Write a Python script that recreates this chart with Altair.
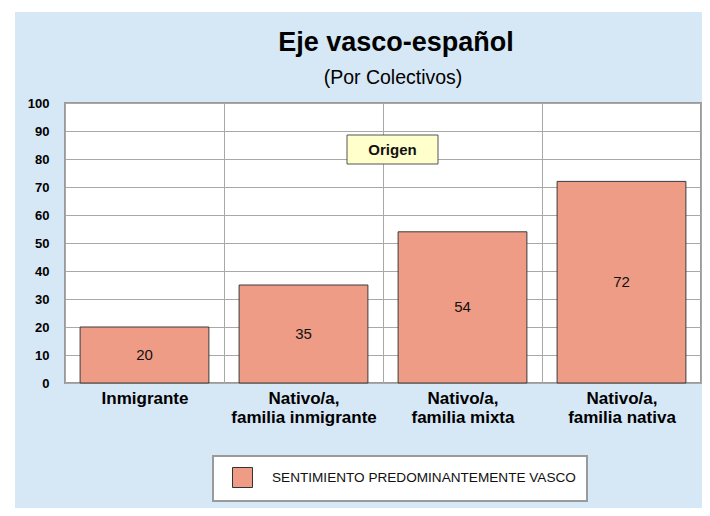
import altair as alt
import pandas as pd

# ---- data ----
categories = [
    "Inmigrante",
    "Nativo/a,\nfamilia inmigrante",
    "Nativo/a,\nfamilia mixta",
    "Nativo/a,\nfamilia nativa",
]
values = [20, 35, 54, 72]
series_name = "Sentimiento predominantemente vasco"
y_ticks = list(range(0, 101, 10))
title_text = ["Eje vasco-español"]
subtitle_text = ["(Por Colectivos)"]
annotation_text = ["Origen"]

df = pd.DataFrame({"colectivo": categories, "valor": values, "serie": [series_name] * len(values)})
one = pd.DataFrame({"label": annotation_text})
title_df = pd.DataFrame({"label": title_text})
subtitle_df = pd.DataFrame({"label": subtitle_text})

FONT = "Liberation Sans"
W, H = 636, 280

x_axis = alt.Axis(
    title=None, domain=False, ticks=False, grid=True, tickBand="extent",
    gridColor="#A8A8A8", gridWidth=1,
    labelAngle=0, labelFont=FONT, labelFontSize=17, labelFontWeight="bold",
    labelColor="black", labelPadding=7, labelLineHeight=19.5, labelBaseline="top",
    labelExpr="split(datum.label, '\\n')", labelLimit=300,
)
x_scale = alt.Scale(paddingInner=0, paddingOuter=0)
y_axis = alt.Axis(
    title=None, values=y_ticks, domain=False, ticks=False,
    gridColor="#A8A8A8", gridWidth=1,
    labelFont=FONT, labelFontSize=13, labelFontWeight="bold", labelColor="black",
    labelPadding=16,
)
y_scale = alt.Scale(domain=[0, 100], nice=False)

base = alt.Chart(df)

bars = base.mark_bar(
    stroke="#3a3a3a", strokeWidth=1, width=alt.RelativeBandSize(0.81)
).encode(
    x=alt.X("colectivo:N", sort=categories, scale=x_scale, axis=x_axis),
    y=alt.Y("valor:Q", scale=y_scale, axis=y_axis),
    color=alt.Color(
        "serie:N",
        scale=alt.Scale(range=["#EE9C86"]),
        legend=alt.Legend(
            orient="none", legendX=148, legendY=353, title=None,
            fillColor="white", strokeColor="#9A9A9A", padding=11,
            symbolType="square", symbolSize=400, symbolStrokeColor="#333333",
            symbolStrokeWidth=1, symbolOffset=8, labelOffset=19,
            labelFont=FONT, labelFontSize=13.6, labelColor="#111111",
            labelExpr="upper(datum.label)", labelLimit=400,
        ),
    ),
)

labels = base.transform_calculate(mid="datum.valor / 2").mark_text(
    font=FONT, fontSize=15, color="#111111", baseline="middle", align="center"
).encode(
    x=alt.X("colectivo:N", sort=categories, scale=x_scale, axis=x_axis),
    y=alt.Y("mid:Q", scale=y_scale, axis=y_axis),
    text=alt.Text("valor:Q"),
)

ann_box = alt.Chart(one).mark_rect(fill="#FFFFCC", stroke="#555555", strokeWidth=1).encode(
    x=alt.value(282), x2=alt.value(373), y=alt.value(32), y2=alt.value(61)
)
ann_text = alt.Chart(one).mark_text(
    font=FONT, fontSize=15, fontWeight="bold", color="#111111", baseline="middle", align="center"
).encode(x=alt.value(327.5), y=alt.value(47), text="label:N")

title_mark = alt.Chart(title_df).mark_text(
    font=FONT, fontSize=27, fontWeight="bold", color="black", baseline="alphabetic", align="center"
).encode(x=alt.value(331), y=alt.value(-52), text="label:N")
subtitle_mark = alt.Chart(subtitle_df).mark_text(
    font=FONT, fontSize=19.5, color="black", baseline="alphabetic", align="center"
).encode(x=alt.value(328), y=alt.value(-19), text="label:N")

strip_left = alt.Chart(one).mark_rect(fill="white").encode(
    x=alt.value(-57), x2=alt.value(-50), y=alt.value(-95), y2=alt.value(420)
)
strip_top = alt.Chart(one).mark_rect(fill="white").encode(
    x=alt.value(-57), x2=alt.value(650), y=alt.value(-95), y2=alt.value(-91)
)

chart = alt.layer(
    strip_left, strip_top, bars, labels, ann_box, ann_text, title_mark, subtitle_mark
).properties(
    width=W,
    height=H,
    autosize=alt.AutoSizeParams(type="none"),
    padding={"left": 57, "top": 95, "right": 1, "bottom": 125},
).configure(background="#D6E7F5").configure_view(
    stroke="#9A9A9A", strokeWidth=2, fill="white"
).configure_legend(strokeWidth=2)

chart.save("out.html", embed_options={"renderer": "svg", "actions": False})
